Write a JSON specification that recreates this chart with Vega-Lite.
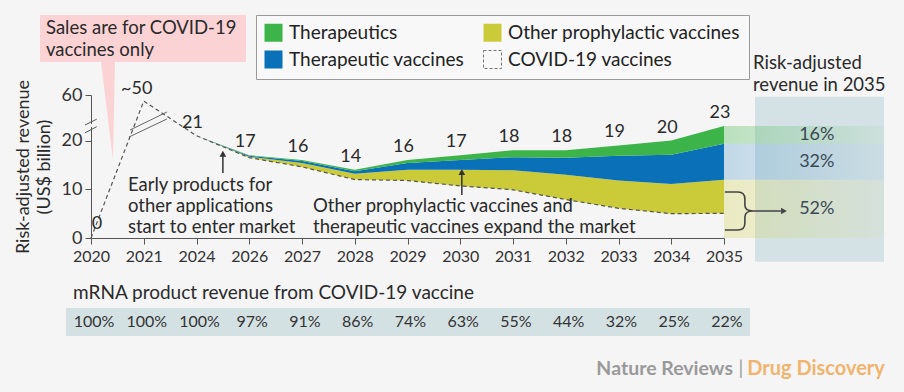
{
  "$schema": "https://vega.github.io/schema/vega-lite/v6.json",
  "width": 633,
  "height": 143,
  "autosize": {"type": "none"},
  "padding": {"left": 91, "top": 95, "right": 180, "bottom": 154},
  "background": "#f5f5f5",
  "config": {
    "font": "Lato",
    "view": {"stroke": null},
    "axis": {"grid": false, "labelColor": "#333", "tickColor": "#555", "domainColor": "#555", "labelFont": "Lato", "titleFont": "Lato"},
    "text": {"font": "Lato", "color": "#2a2a2a"}
  },
  "datasets": {
    "rev": [
      {"year": 2020, "series": "COVID-19 vaccines", "value": 0, "rank": 1},
      {"year": 2021, "series": "COVID-19 vaccines", "value": 50, "rank": 1},
      {"year": 2024, "series": "COVID-19 vaccines", "value": 21, "rank": 1},
      {"year": 2026, "series": "COVID-19 vaccines", "value": 16.5, "rank": 1},
      {"year": 2027, "series": "COVID-19 vaccines", "value": 14.6, "rank": 1},
      {"year": 2028, "series": "COVID-19 vaccines", "value": 12.0, "rank": 1},
      {"year": 2029, "series": "COVID-19 vaccines", "value": 11.8, "rank": 1},
      {"year": 2030, "series": "COVID-19 vaccines", "value": 10.7, "rank": 1},
      {"year": 2031, "series": "COVID-19 vaccines", "value": 9.9, "rank": 1},
      {"year": 2032, "series": "COVID-19 vaccines", "value": 7.9, "rank": 1},
      {"year": 2033, "series": "COVID-19 vaccines", "value": 6.1, "rank": 1},
      {"year": 2034, "series": "COVID-19 vaccines", "value": 5.0, "rank": 1},
      {"year": 2035, "series": "COVID-19 vaccines", "value": 5.06, "rank": 1},
      {"year": 2024, "series": "Other prophylactic vaccines", "value": 0, "rank": 2},
      {"year": 2026, "series": "Other prophylactic vaccines", "value": 0.2, "rank": 2},
      {"year": 2027, "series": "Other prophylactic vaccines", "value": 0.8, "rank": 2},
      {"year": 2028, "series": "Other prophylactic vaccines", "value": 1.2, "rank": 2},
      {"year": 2029, "series": "Other prophylactic vaccines", "value": 2.2, "rank": 2},
      {"year": 2030, "series": "Other prophylactic vaccines", "value": 3.3, "rank": 2},
      {"year": 2031, "series": "Other prophylactic vaccines", "value": 4.0, "rank": 2},
      {"year": 2032, "series": "Other prophylactic vaccines", "value": 5.1, "rank": 2},
      {"year": 2033, "series": "Other prophylactic vaccines", "value": 5.7, "rank": 2},
      {"year": 2034, "series": "Other prophylactic vaccines", "value": 6.1, "rank": 2},
      {"year": 2035, "series": "Other prophylactic vaccines", "value": 6.9, "rank": 2},
      {"year": 2024, "series": "Therapeutic vaccines", "value": 0, "rank": 3},
      {"year": 2026, "series": "Therapeutic vaccines", "value": 0.2, "rank": 3},
      {"year": 2027, "series": "Therapeutic vaccines", "value": 0.4, "rank": 3},
      {"year": 2028, "series": "Therapeutic vaccines", "value": 0.5, "rank": 3},
      {"year": 2029, "series": "Therapeutic vaccines", "value": 1.4, "rank": 3},
      {"year": 2030, "series": "Therapeutic vaccines", "value": 2.0, "rank": 3},
      {"year": 2031, "series": "Therapeutic vaccines", "value": 2.7, "rank": 3},
      {"year": 2032, "series": "Therapeutic vaccines", "value": 3.5, "rank": 3},
      {"year": 2033, "series": "Therapeutic vaccines", "value": 5.1, "rank": 3},
      {"year": 2034, "series": "Therapeutic vaccines", "value": 6.0, "rank": 3},
      {"year": 2035, "series": "Therapeutic vaccines", "value": 7.4, "rank": 3},
      {"year": 2024, "series": "Therapeutics", "value": 0, "rank": 4},
      {"year": 2026, "series": "Therapeutics", "value": 0.1, "rank": 4},
      {"year": 2027, "series": "Therapeutics", "value": 0.2, "rank": 4},
      {"year": 2028, "series": "Therapeutics", "value": 0.3, "rank": 4},
      {"year": 2029, "series": "Therapeutics", "value": 0.6, "rank": 4},
      {"year": 2030, "series": "Therapeutics", "value": 1.0, "rank": 4},
      {"year": 2031, "series": "Therapeutics", "value": 1.4, "rank": 4},
      {"year": 2032, "series": "Therapeutics", "value": 1.5, "rank": 4},
      {"year": 2033, "series": "Therapeutics", "value": 2.1, "rank": 4},
      {"year": 2034, "series": "Therapeutics", "value": 2.9, "rank": 4},
      {"year": 2035, "series": "Therapeutics", "value": 3.64, "rank": 4}
    ],
    "totals": [
      {"year": 2024, "total": 21}, {"year": 2026, "total": 17}, {"year": 2027, "total": 16},
      {"year": 2028, "total": 14}, {"year": 2029, "total": 16}, {"year": 2030, "total": 17},
      {"year": 2031, "total": 18}, {"year": 2032, "total": 18}, {"year": 2033, "total": 19},
      {"year": 2034, "total": 20}, {"year": 2035, "total": 23}
    ],
    "covidshare": [
      {"year": 2020, "share": 1.0}, {"year": 2021, "share": 1.0}, {"year": 2024, "share": 1.0},
      {"year": 2026, "share": 0.97}, {"year": 2027, "share": 0.91}, {"year": 2028, "share": 0.86},
      {"year": 2029, "share": 0.74}, {"year": 2030, "share": 0.63}, {"year": 2031, "share": 0.55},
      {"year": 2032, "share": 0.44}, {"year": 2033, "share": 0.32}, {"year": 2034, "share": 0.25},
      {"year": 2035, "share": 0.22}
    ],
    "bands": [
      {"group": "Therapeutics", "lo": 19.36, "hi": 23, "label": "16%"},
      {"group": "Therapeutic vaccines", "lo": 11.96, "hi": 19.36, "label": "32%"},
      {"group": "Prophylactic vaccines", "lo": 0, "hi": 11.96, "label": "52%"}
    ]
  },
  "layer": [
    {
      "data": {"values": [{}]},
      "mark": {"type": "rect", "color": "#d5e2e5"},
      "encoding": {
        "x": {"datum": 2035.588}, "x2": {"datum": 2038.033},
        "y": {"datum": 57.2}, "y2": {"datum": -4.87}
      }
    },
    {
      "data": {"values": [{}]},
      "mark": {"type": "rect", "color": "#d3e1e3"},
      "encoding": {
        "x": {"datum": 2019.526}, "x2": {"datum": 2035.493},
        "y": {"datum": -14.37}, "y2": {"datum": -20.12}
      }
    },
    {
      "data": {"name": "bands"},
      "transform": [{"filter": "datum.group === 'Therapeutics'"}],
      "mark": {"type": "rect", "color": {"gradient": "linear", "x1": 0, "y1": 0, "x2": 1, "y2": 0, "stops": [{"offset": 0, "color": "rgba(60,180,74,0.32)"}, {"offset": 1, "color": "rgba(60,180,74,0.06)"}]}},
      "encoding": {"x": {"datum": 2035}, "x2": {"datum": 2038.033}, "y": {"field": "lo", "type": "quantitative"}, "y2": {"field": "hi"}}
    },
    {
      "data": {"name": "bands"},
      "transform": [{"filter": "datum.group === 'Therapeutic vaccines'"}],
      "mark": {"type": "rect", "color": {"gradient": "linear", "x1": 0, "y1": 0, "x2": 1, "y2": 0, "stops": [{"offset": 0, "color": "rgba(10,113,185,0.22)"}, {"offset": 1, "color": "rgba(10,113,185,0.05)"}]}},
      "encoding": {"x": {"datum": 2035}, "x2": {"datum": 2038.033}, "y": {"field": "lo", "type": "quantitative"}, "y2": {"field": "hi"}}
    },
    {
      "data": {"name": "bands"},
      "transform": [{"filter": "datum.group === 'Prophylactic vaccines'"}],
      "mark": {"type": "rect", "color": {"gradient": "linear", "x1": 0, "y1": 0, "x2": 1, "y2": 0, "stops": [{"offset": 0, "color": "rgba(205,205,60,0.28)"}, {"offset": 1, "color": "rgba(205,205,60,0.06)"}]}},
      "encoding": {"x": {"datum": 2035}, "x2": {"datum": 2038.033}, "y": {"field": "lo", "type": "quantitative"}, "y2": {"field": "hi"}}
    },
    {
      "data": {"name": "rev"},
      "transform": [{"filter": "datum.year >= 2024"}],
      "mark": {"type": "area", "opacity": 1, "interpolate": "linear"},
      "encoding": {
        "x": {
          "field": "year", "type": "quantitative",
          "scale": {"domain": [2020, 2021, 2024, 2026, 2027, 2028, 2029, 2030, 2031, 2032, 2033, 2034, 2035], "range": [0, 52.75, 105.5, 158.25, 211, 263.75, 316.5, 369.25, 422, 474.75, 527.5, 580.25, 633], "nice": false, "zero": false},
          "axis": {"values": [2020, 2021, 2024, 2026, 2027, 2028, 2029, 2030, 2031, 2032, 2033, 2034, 2035], "format": "d", "title": null, "labelFontSize": 16, "tickSize": 6, "labelPadding": 4, "labelFlush": false, "labelOverlap": false}
        },
        "y": {
          "field": "value", "type": "quantitative", "stack": "zero",
          "scale": {"domain": [0, 25, 60], "range": [143, 21.25, 0], "nice": false, "zero": false},
          "axis": {"values": [0, 10, 20, 60], "title": ["Risk-adjusted revenue", "(US$ billion)"], "titleFontSize": 18, "titleFontWeight": "normal", "titleColor": "#2a2a2a", "titlePadding": 8, "titleLineHeight": 21, "labelFontSize": 18, "tickSize": 6, "labelPadding": 3, "labelFlush": false, "labelOverlap": false}
        },
        "color": {
          "field": "series", "type": "nominal",
          "scale": {"domain": ["Therapeutics", "Therapeutic vaccines", "Other prophylactic vaccines", "COVID-19 vaccines"], "range": ["#3cb44a", "#0a71b9", "#cbcb3a", "rgba(0,0,0,0)"]},
          "legend": {
            "orient": "none", "legendX": 165, "legendY": -80, "columns": 2, "title": null,
            "symbolType": "square", "symbolSize": 324, "labelFontSize": 19, "labelColor": "#222", "labelFont": "Lato",
            "padding": 8, "strokeColor": "#999", "fillColor": "#f8f8f8", "rowPadding": 4, "columnPadding": 16,
            "labelOffset": 6, "labelLimit": 400, "symbolOpacity": 1,
            "encode": {"symbols": {"update": {
              "fill": {"signal": "datum.value === 'COVID-19 vaccines' ? '#ffffff' : scale('color', datum.value)"},
              "stroke": {"signal": "datum.value === 'COVID-19 vaccines' ? '#777777' : 'transparent'"},
              "strokeDash": {"signal": "datum.value === 'COVID-19 vaccines' ? [3, 2] : [1, 0]"},
              "strokeWidth": {"value": 1},
              "opacity": {"value": 1}
            }}}
          }
        },
        "order": {"field": "rank", "type": "quantitative"}
      }
    },
    {
      "data": {"name": "rev"},
      "transform": [{"filter": "datum.series === 'COVID-19 vaccines'"}],
      "mark": {"type": "line", "color": "#555", "strokeWidth": 1.2, "strokeDash": [4, 3]},
      "encoding": {"x": {"field": "year", "type": "quantitative"}, "y": {"field": "value", "type": "quantitative"}}
    },
    {
      "data": {"values": [{}]},
      "mark": {"type": "rect", "color": "#f5f5f5"},
      "encoding": {"x": {"datum": 2019.97}, "x2": {"datum": 2020.03}, "y": {"datum": 22.8}, "y2": {"datum": 23.4}}
    },
    {
      "data": {"values": [{}]},
      "mark": {"type": "rule", "color": "#555", "strokeWidth": 1},
      "encoding": {"x": {"datum": 2019.886}, "x2": {"datum": 2020.108}, "y": {"datum": 21.6}, "y2": {"datum": 22.85}}
    },
    {
      "data": {"values": [{}]},
      "mark": {"type": "rule", "color": "#555", "strokeWidth": 1},
      "encoding": {"x": {"datum": 2019.886}, "x2": {"datum": 2020.108}, "y": {"datum": 23.2}, "y2": {"datum": 24.4}}
    },
    {
      "data": {"values": [{}]},
      "mark": {"type": "rule", "color": "#666", "strokeWidth": 1},
      "encoding": {"x": {"datum": 2020.72}, "x2": {"datum": 2022.32}, "y": {"datum": 20.74}, "y2": {"datum": 24.44}}
    },
    {
      "data": {"values": [{}]},
      "mark": {"type": "rule", "color": "#666", "strokeWidth": 1},
      "encoding": {"x": {"datum": 2020.74}, "x2": {"datum": 2022.32}, "y": {"datum": 22.18}, "y2": {"datum": 32}}
    },
    {
      "data": {"values": [{}]},
      "mark": {"type": "point", "shape": "M-7,-49L7,-49L5,49Z", "size": 4, "filled": true, "color": "#fbd3d5", "opacity": 1, "strokeWidth": 0},
      "encoding": {"x": {"datum": 2020.322}, "y": {"datum": 33.65}}
    },
    {
      "data": {"values": [{}]},
      "mark": {"type": "rect", "color": "#fbd3d5"},
      "encoding": {"x": {"datum": 2019.033}, "x2": {"datum": 2025.877}, "y": {"datum": 114.4}, "y2": {"datum": 191.8}}
    },
    {
      "data": {"values": [{}]},
      "mark": {"type": "text", "text": ["Sales are for COVID-19", "vaccines only"], "align": "left", "baseline": "middle", "fontSize": 18.5, "lineHeight": 22},
      "encoding": {"x": {"datum": 2019.147}, "y": {"datum": 170.3}}
    },
    {
      "data": {"name": "totals"},
      "mark": {"type": "text", "fontSize": 18, "dx": -4, "dy": -13, "baseline": "middle"},
      "encoding": {"x": {"field": "year", "type": "quantitative"}, "y": {"field": "total", "type": "quantitative"}, "text": {"field": "total"}}
    },
    {
      "data": {"values": [{}]},
      "mark": {"type": "text", "text": "0", "fontSize": 18, "dx": 6, "dy": -14, "baseline": "middle"},
      "encoding": {"x": {"datum": 2020}, "y": {"datum": 0}}
    },
    {
      "data": {"values": [{}]},
      "mark": {"type": "text", "text": "~50", "fontSize": 18, "dx": -7, "dy": -12, "baseline": "middle"},
      "encoding": {"x": {"datum": 2021}, "y": {"datum": 50}}
    },
    {
      "data": {"values": [{}]},
      "mark": {"type": "text", "text": ["Early products for", "other applications", "start to enter market"], "align": "left", "baseline": "middle", "fontSize": 18.5, "lineHeight": 21},
      "encoding": {"x": {"datum": 2020.70}, "y": {"datum": 10.88}}
    },
    {
      "data": {"values": [{}]},
      "mark": {"type": "text", "text": ["Other prophylactic vaccines and", "therapeutic vaccines expand the market"], "align": "left", "baseline": "middle", "fontSize": 18.5, "lineHeight": 21},
      "encoding": {"x": {"datum": 2027.21}, "y": {"datum": 6.67}}
    },
    {
      "data": {"values": [{}]},
      "mark": {"type": "rule", "color": "#333", "strokeWidth": 1.5},
      "encoding": {"x": {"datum": 2025.0}, "y": {"datum": 13.35}, "y2": {"datum": 17.0}}
    },
    {
      "data": {"values": [{}]},
      "mark": {"type": "point", "shape": "triangle-up", "size": 45, "filled": true, "color": "#333", "opacity": 1},
      "encoding": {"x": {"datum": 2025.0}, "y": {"datum": 17.3}}
    },
    {
      "data": {"values": [{}]},
      "mark": {"type": "rule", "color": "#333", "strokeWidth": 1.5},
      "encoding": {"x": {"datum": 2030.03}, "y": {"datum": 8.83}, "y2": {"datum": 13.2}}
    },
    {
      "data": {"values": [{}]},
      "mark": {"type": "point", "shape": "triangle-up", "size": 45, "filled": true, "color": "#333", "opacity": 1},
      "encoding": {"x": {"datum": 2030.03}, "y": {"datum": 13.55}}
    },
    {
      "data": {"values": [{}]},
      "mark": {"type": "point", "shape": "M-16,-19L-3,-19Q4,-19 4,-12L4,-6Q4,0 12,0L40,0M12,0Q4,0 4,6L4,12Q4,19 -3,19L-16,19", "size": 4, "filled": false, "color": "#444", "strokeWidth": 1.6, "opacity": 1},
      "encoding": {"x": {"datum": 2035.32}, "y": {"datum": 5.54}}
    },
    {
      "data": {"values": [{}]},
      "mark": {"type": "point", "shape": "triangle-right", "size": 45, "filled": true, "color": "#444", "opacity": 1},
      "encoding": {"x": {"datum": 2036.137}, "y": {"datum": 5.54}}
    },
    {
      "data": {"name": "bands"},
      "transform": [{"calculate": "(datum.lo + datum.hi) / 2", "as": "mid"}],
      "mark": {"type": "text", "fontSize": 18, "align": "center", "baseline": "middle", "color": "#3a4a55"},
      "encoding": {"x": {"datum": 2036.76}, "y": {"field": "mid", "type": "quantitative"}, "text": {"field": "label"}}
    },
    {
      "data": {"values": [{}]},
      "mark": {"type": "text", "text": ["Risk-adjusted", "revenue in 2035"], "align": "left", "baseline": "middle", "fontSize": 18.5, "lineHeight": 22},
      "encoding": {"x": {"datum": 2035.55}, "y": {"datum": 112.7}}
    },
    {
      "data": {"values": [{}]},
      "mark": {"type": "text", "text": "mRNA product revenue from COVID-19 vaccine", "align": "left", "baseline": "middle", "fontSize": 19},
      "encoding": {"x": {"datum": 2019.66}, "y": {"datum": -11.29}}
    },
    {
      "data": {"name": "covidshare"},
      "mark": {"type": "text", "fontSize": 16, "dx": 3, "baseline": "middle", "align": "center", "color": "#333"},
      "encoding": {"x": {"field": "year", "type": "quantitative"}, "y": {"datum": -17.25}, "text": {"field": "share", "format": ".0%"}}
    },
    {
      "data": {"values": [{}]},
      "mark": {"type": "text", "text": "Drug Discovery", "align": "right", "baseline": "middle", "fontSize": 20, "fontWeight": "bold", "color": "#f0b46e"},
      "encoding": {"x": {"datum": 2038.05}, "y": {"datum": -26.9}}
    },
    {
      "data": {"values": [{}]},
      "mark": {"type": "text", "text": "|", "align": "center", "baseline": "middle", "fontSize": 19, "color": "#9a9a9a"},
      "encoding": {"x": {"datum": 2035.32}, "y": {"datum": -26.9}}
    },
    {
      "data": {"values": [{}]},
      "mark": {"type": "text", "text": "Nature Reviews", "align": "right", "baseline": "middle", "fontSize": 19.5, "fontWeight": "bold", "color": "#9a9a9a"},
      "encoding": {"x": {"datum": 2035.17}, "y": {"datum": -26.9}}
    }
  ]
}
